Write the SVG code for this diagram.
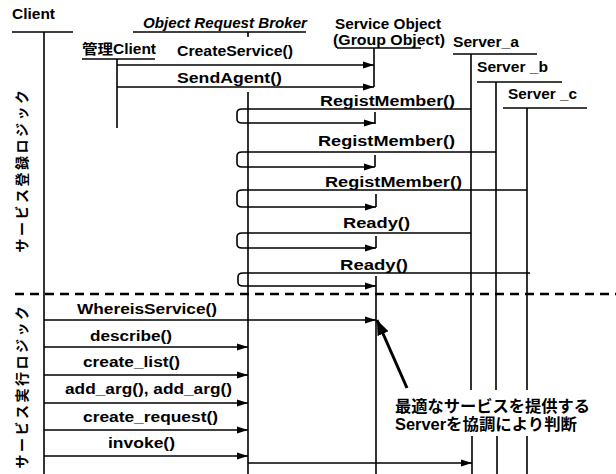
<svg xmlns="http://www.w3.org/2000/svg" width="616" height="474" viewBox="0 0 616 474">
  <style>
    .t { font-family: "Liberation Sans", Arial, sans-serif; font-weight: bold; font-size: 14px; fill: #000; }
    .jp { font-family: "Liberation Sans", "Noto Sans CJK JP", sans-serif; font-weight: bold; fill: #000; }
    .ln { stroke: #000; stroke-width: 1.6; fill: none; }
    .msg { stroke: #000; stroke-width: 1.6; fill: none; marker-end: url(#ah); }
    .dash { stroke: #000; stroke-width: 2.4; stroke-dasharray: 9 6; fill: none; }
  </style>
  <defs>
    <marker id="ah" markerUnits="userSpaceOnUse" markerWidth="12" markerHeight="8" refX="11" refY="4" orient="auto">
      <path d="M0,0.5 L11,4 L0,7.5 z" fill="#000"/>
    </marker>
    <marker id="bigah" markerUnits="userSpaceOnUse" markerWidth="16" markerHeight="12" refX="15" refY="6" orient="auto">
      <path d="M0,0 L15,6 L0,12 z" fill="#000"/>
    </marker>
  </defs>
  <rect width="616" height="474" fill="#fff"/>

  <!-- participants -->
  <g id="client">
    <text class="t" x="12" y="19" font-size="15" textLength="43" lengthAdjust="spacingAndGlyphs">Client</text>
    <line class="ln" x1="12" y1="32" x2="73" y2="32"/>
    <line class="ln" x1="44" y1="32" x2="44" y2="474"/>
  </g>
  <g id="orb">
    <text class="t" x="143" y="28" font-size="13" font-style="italic" textLength="164" lengthAdjust="spacingAndGlyphs">Object Request Broker</text>
    <line class="ln" x1="133" y1="32" x2="306" y2="32"/>
    <line class="ln" x1="248" y1="32" x2="248" y2="37"/>
    <line class="ln" x1="248" y1="92" x2="248" y2="474"/>
  </g>
  <g id="admin-client">
    <text class="jp" x="82" y="54" font-size="14" textLength="74" lengthAdjust="spacingAndGlyphs">管理Client</text>
    <line class="ln" x1="82" y1="59" x2="155" y2="59"/>
    <line class="ln" x1="117" y1="59" x2="117" y2="128"/>
  </g>
  <g id="service-object">
    <text class="t" x="335" y="29" font-size="13" textLength="106" lengthAdjust="spacingAndGlyphs">Service Object</text>
    <text class="t" x="333" y="45" font-size="13" textLength="112" lengthAdjust="spacingAndGlyphs">(Group Object)</text>
    <line class="ln" x1="337" y1="48" x2="421" y2="48" stroke-width="1.2"/>
    <line class="ln" x1="374" y1="48" x2="374" y2="87"/>
    <line class="ln" x1="375" y1="112" x2="375" y2="124"/>
    <line class="ln" x1="375" y1="155" x2="375" y2="167"/>
    <line class="ln" x1="376" y1="194" x2="376" y2="207"/>
    <line class="ln" x1="376" y1="236" x2="376" y2="248"/>
    <line class="ln" x1="376" y1="276" x2="376" y2="474"/>
  </g>
  <g id="server-a">
    <text class="t" x="453" y="47" font-size="13" textLength="66" lengthAdjust="spacingAndGlyphs">Server_a</text>
    <line class="ln" x1="453" y1="54" x2="537" y2="54"/>
    <line class="ln" x1="471" y1="54" x2="471" y2="390"/>
    <line class="ln" x1="472" y1="436" x2="472" y2="474"/>
  </g>
  <g id="server-b">
    <text class="t" x="477" y="72" font-size="13" textLength="71" lengthAdjust="spacingAndGlyphs">Server _b</text>
    <line class="ln" x1="477" y1="82" x2="562" y2="82"/>
    <line class="ln" x1="496" y1="82" x2="496" y2="390"/>
    <line class="ln" x1="497" y1="436" x2="497" y2="474"/>
  </g>
  <g id="server-c">
    <text class="t" x="508" y="99" font-size="13" textLength="69" lengthAdjust="spacingAndGlyphs">Server _c</text>
    <line class="ln" x1="503" y1="108" x2="587" y2="108"/>
    <line class="ln" x1="527" y1="108" x2="527" y2="390"/>
    <line class="ln" x1="527" y1="436" x2="527" y2="474"/>
  </g>

  <!-- phase labels -->
  <g id="phase-register">
    <text class="jp" font-size="14" text-anchor="middle" letter-spacing="2.5" transform="translate(27,170) rotate(-90)">サービス登録ロジック</text>
  </g>
  <g id="phase-execute">
    <text class="jp" font-size="14" text-anchor="middle" letter-spacing="2.5" transform="translate(27,386) rotate(-90)">サービス実行ロジック</text>
  </g>

  <!-- message labels -->
  <g id="labels">
    <text class="t" x="177" y="56" textLength="116" lengthAdjust="spacingAndGlyphs">CreateService()</text>
    <text class="t" x="177" y="83" font-size="15" textLength="105" lengthAdjust="spacingAndGlyphs">SendAgent()</text>
    <text class="t" x="320" y="106" textLength="135" lengthAdjust="spacingAndGlyphs">RegistMember()</text>
    <text class="t" x="318" y="146" textLength="137" lengthAdjust="spacingAndGlyphs">RegistMember()</text>
    <text class="t" x="325" y="187" textLength="137" lengthAdjust="spacingAndGlyphs">RegistMember()</text>
    <text class="t" x="343" y="228" textLength="67" lengthAdjust="spacingAndGlyphs">Ready()</text>
    <text class="t" x="340" y="270" textLength="68" lengthAdjust="spacingAndGlyphs">Ready()</text>
    <text class="t" x="77" y="314" font-size="15" textLength="140" lengthAdjust="spacingAndGlyphs">WhereisService()</text>
    <text class="t" x="90" y="341" font-size="15" textLength="82" lengthAdjust="spacingAndGlyphs">describe()</text>
    <text class="t" x="83" y="367" font-size="15" textLength="97" lengthAdjust="spacingAndGlyphs">create_list()</text>
    <text class="t" x="65" y="394" font-size="15" textLength="167" lengthAdjust="spacingAndGlyphs">add_arg(), add_arg()</text>
    <text class="t" x="83" y="422" font-size="15" textLength="135" lengthAdjust="spacingAndGlyphs">create_request()</text>
    <text class="t" x="108" y="448" font-size="15" textLength="67" lengthAdjust="spacingAndGlyphs">invoke()</text>
  </g>

  <!-- connectors -->
  <g id="connectors">
    <line class="msg" x1="117" y1="65" x2="374" y2="65"/>
    <line class="msg" x1="117" y1="87" x2="374" y2="87"/>
    <path class="msg" d="M471,109 H242 Q237,109 237,113 V119 Q237,123 242,123 H375"/>
    <path class="msg" d="M496,152 H242 Q237,152 237,156 V163 Q237,167 242,167 H375"/>
    <path class="msg" d="M527,190 H242 Q237,190 237,194 V203 Q237,207 242,207 H376"/>
    <path class="msg" d="M471,233 H242 Q237,233 237,237 V244 Q237,248 242,248 H376"/>
    <path class="msg" d="M530,273 H243 Q238,273 238,277 V282 Q238,286 243,286 H376"/>
    <line class="dash" x1="15" y1="294" x2="616" y2="294"/>
    <line class="msg" x1="44" y1="320" x2="376" y2="320"/>
    <line class="msg" x1="44" y1="347" x2="248" y2="347"/>
    <line class="msg" x1="44" y1="375" x2="248" y2="375"/>
    <line class="msg" x1="44" y1="403" x2="248" y2="403"/>
    <line class="msg" x1="44" y1="430" x2="248" y2="430"/>
    <line class="msg" x1="44" y1="456" x2="248" y2="456"/>
    <line class="msg" x1="248" y1="463" x2="472" y2="463"/>
    <line x1="407" y1="388" x2="377" y2="320" stroke="#000" stroke-width="3" marker-end="url(#bigah)"/>
  </g>

  <!-- note -->
  <g id="note">
    <text class="jp" x="395" y="412" font-size="16" textLength="195" lengthAdjust="spacingAndGlyphs">最適なサービスを提供する</text>
    <text class="jp" x="395" y="430" font-size="16" textLength="182" lengthAdjust="spacingAndGlyphs">Serverを協調により判断</text>
  </g>
</svg>
